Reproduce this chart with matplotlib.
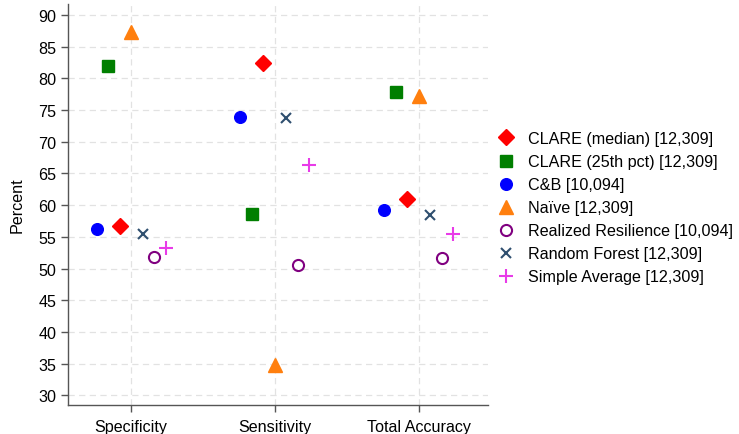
import matplotlib
matplotlib.use("Agg")
import matplotlib.pyplot as plt
import numpy as np

plt.rcParams['font.family'] = ['Liberation Sans', 'DejaVu Sans']

categories = ["Specificity", "Sensitivity", "Total Accuracy"]

# Series values (percent) for Specificity, Sensitivity, Total Accuracy
clare_median = [56.7, 82.5, 61.0]
clare_25th = [81.9, 58.6, 77.9]
cb = [56.3, 73.9, 59.2]
naive = [87.3, 34.8, 77.3]
realized_res = [51.8, 50.5, 51.6]
random_forest = [55.4, 73.8, 58.4]
simple_avg = [53.3, 66.3, 55.5]

labels = ["CLARE (median) [12,309]", "CLARE (25th pct) [12,309]", "C&B [10,094]",
          "Naïve [12,309]", "Realized Resilience [10,094]",
          "Random Forest [12,309]", "Simple Average [12,309]"]

yticks = list(range(30, 95, 5))

fs = 11.6

fig = plt.figure(figsize=(7.39, 4.35), dpi=100)
ax = fig.add_axes([0.092, 0.067, 0.568, 0.921])

x = np.arange(len(categories))
step = 0.08

series = [
    (clare_median, -1, dict(marker='D', color='#FF0000', ms=7.8, ls='none')),
    (clare_25th, -2, dict(marker='s', color='#007F00', ms=8.2, ls='none')),
    (cb, -3, dict(marker='o', color='#0000FF', ms=8.4, ls='none')),
    (naive, 0, dict(marker='^', color='#FF7F0E', ms=9.5, ls='none')),
    (realized_res, 2, dict(marker='o', mfc='none', mec='#800080', mew=1.5, ms=8.0, ls='none')),
    (random_forest, 1, dict(marker='x', color='#2F4F6F', mew=1.5, ms=7.0, ls='none')),
    (simple_avg, 3, dict(marker='+', color='#E83BE8', mew=1.5, ms=9.5, ls='none')),
]

handles = []
for vals, off, style in series:
    h, = ax.plot(x + off * step, vals, **style)
    handles.append(h)

ax.set_xlim(-0.44, 2.48)
ax.set_ylim(28.5, 91.7)
ax.set_xticks(x)
ax.set_xticklabels(categories, fontsize=fs)
ax.set_yticks(yticks)
ax.set_yticklabels([str(t) for t in yticks], fontsize=fs)
ax.set_ylabel("Percent", fontsize=fs, labelpad=10)

ax.grid(True, color='#E2E2E2', linestyle=(0, (5, 3.5)), linewidth=0.9)
ax.set_axisbelow(True)
for s in ['top', 'right']:
    ax.spines[s].set_visible(False)
for s in ['left', 'bottom']:
    ax.spines[s].set_color('#555555')
    ax.spines[s].set_linewidth(1.0)
ax.tick_params(axis='both', colors='#555555', labelcolor='black', length=5, width=1.0)
ax.tick_params(axis='x', pad=5)

fig.legend(handles, labels, loc='center left', bbox_to_anchor=(0.654, 0.52),
           frameon=False, fontsize=fs, labelspacing=0.5, handletextpad=0.9,
           handlelength=1.0, numpoints=1)

fig.savefig("out.png", dpi=100)
